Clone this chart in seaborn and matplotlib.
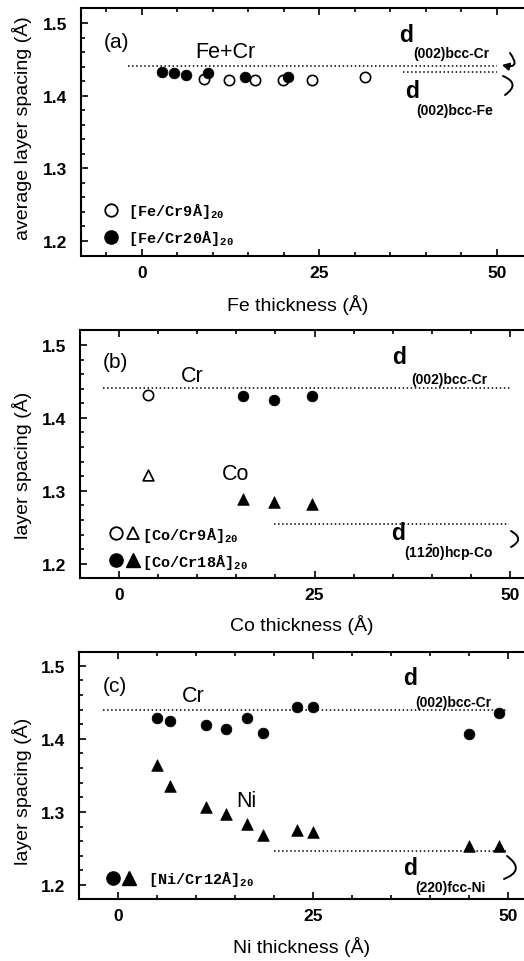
import matplotlib
matplotlib.use('Agg')
import matplotlib.pyplot as plt
import seaborn as sns
from matplotlib.lines import Line2D
from matplotlib.legend_handler import HandlerTuple
from matplotlib.patches import FancyArrowPatch
from matplotlib.ticker import MultipleLocator, FormatStrFormatter

# ---- data ----
# (a) [Fe/Cr]20 multilayers, average layer spacing
fe_x_cr9 = [8.8, 12.3, 16.0, 19.9, 24.0, 31.5]
fe_y_cr9 = [1.423, 1.421, 1.421, 1.422, 1.422, 1.425]
fe_x_cr20 = [2.8, 4.5, 6.2, 9.4, 14.6, 20.6]
fe_y_cr20 = [1.433, 1.431, 1.429, 1.431, 1.425, 1.426]

# (b) [Co/Cr]20, Cr (circles) and Co (triangles) spacing
co_x_cr9 = [3.75]
co_crsp_cr9 = [1.431]
co_cosp_cr9 = [1.322]
co_x_cr18 = [15.8, 19.8, 24.7]
co_crsp_cr18 = [1.430, 1.425, 1.430]
co_cosp_cr18 = [1.289, 1.285, 1.282]

# (c) [Ni/Cr12A]20, Cr (circles) and Ni (triangles) spacing
ni_x = [5.0, 6.6, 11.3, 13.8, 16.5, 18.6, 22.9, 25.0, 44.9, 48.8]
ni_crsp = [1.429, 1.425, 1.419, 1.413, 1.428, 1.408, 1.443, 1.443, 1.406, 1.436]
ni_nisp = [1.364, 1.336, 1.307, 1.297, 1.283, 1.269, 1.275, 1.272, 1.253, 1.254]

# bulk reference spacings (dotted lines): value, x from, x to
ref_a_y = [1.441, 1.433]
ref_a_x0 = [-2.0, 36.8]
ref_a_x1 = [50.0, 50.0]
ref_b_y = [1.441, 1.254]
ref_b_x0 = [-2.0, 19.8]
ref_b_x1 = [50.0, 49.9]
ref_c_y = [1.440, 1.246]
ref_c_x0 = [-2.0, 19.9]
ref_c_x1 = [50.0, 49.7]

sns.set_style('ticks')
plt.rcParams['font.family'] = ['Liberation Sans', 'DejaVu Sans']
plt.rcParams['mathtext.fontset'] = 'custom'
plt.rcParams['mathtext.rm'] = 'Liberation Sans:bold'
plt.rcParams['mathtext.bf'] = 'Liberation Sans:bold'
plt.rcParams['mathtext.it'] = 'Liberation Sans:bold'
for k in ['text.color', 'axes.labelcolor', 'xtick.color', 'ytick.color', 'axes.edgecolor']:
    plt.rcParams[k] = 'black'

W, H = 524, 962
fig = plt.figure(figsize=(W / 100, H / 100), dpi=100)


def add_ax(left, right, top, bottom):
    return fig.add_axes([left / W, 1 - bottom / H, (right - left) / W, (bottom - top) / H])


def ptxt(px, py, s, **kw):
    kw.setdefault('va', 'center')
    kw.setdefault('ha', 'left')
    fig.text(px / W, 1 - py / H, s, **kw)


def curve(p0, p1, rad, head=False):
    a = FancyArrowPatch((p0[0] / W, 1 - p0[1] / H), (p1[0] / W, 1 - p1[1] / H),
                        transform=fig.transFigure, connectionstyle=f'arc3,rad={rad}',
                        arrowstyle='-|>,head_length=4,head_width=2.2' if head else '-',
                        mutation_scale=1, color='black', lw=1.4, shrinkA=0, shrinkB=0)
    fig.add_artist(a)


def style_ax(ax, xlim, ylim):
    ax.set_xlim(*xlim)
    ax.set_ylim(*ylim)
    ax.xaxis.set_major_locator(MultipleLocator(25))
    ax.xaxis.set_minor_locator(MultipleLocator(5))
    ax.yaxis.set_major_locator(MultipleLocator(0.1))
    ax.yaxis.set_minor_locator(MultipleLocator(0.02))
    ax.yaxis.set_major_formatter(FormatStrFormatter('%.1f'))
    ax.spines['right'].set_visible(False)
    for s in ['left', 'bottom', 'top']:
        ax.spines[s].set_linewidth(1.5)
    ax.tick_params(which='both', direction='in', top=True, width=1.2)
    ax.tick_params(which='major', length=5)
    ax.tick_params(which='minor', length=3)
    ax.tick_params(axis='x', which='major', pad=6.5)
    ax.tick_params(axis='y', which='major', pad=10)
    for lab in ax.get_xticklabels() + ax.get_yticklabels():
        lab.set_fontweight('bold')
        lab.set_fontsize(12.5)


def open_pts(ax, x, y, m, s):
    sns.scatterplot(x=x, y=y, marker=m, s=s, color='white', edgecolor='black',
                    linewidth=1.2, ax=ax, zorder=3, legend=False)


def full_pts(ax, x, y, m, s):
    sns.scatterplot(x=x, y=y, marker=m, s=s, color='black', edgecolor='black',
                    linewidth=0.5, ax=ax, zorder=3, legend=False)


mono = {'family': ['Liberation Mono', 'DejaVu Sans Mono'], 'weight': 'bold', 'size': 11}
oc = dict(marker='o', ls='none', mfc='white', mec='black', mew=1.3, ms=9)
fc = dict(marker='o', ls='none', mfc='black', mec='black', ms=9.5)
ot = dict(marker='^', ls='none', mfc='white', mec='black', mew=1.3, ms=9)
ft = dict(marker='^', ls='none', mfc='black', mec='black', ms=9.5)
dsize = 16.5

# ---------------- (a) ----------------
ax = add_ax(81, 524, 9, 257)
ax.hlines(ref_a_y, ref_a_x0, ref_a_x1, colors='black', linestyles=':', lw=1.1)
open_pts(ax, fe_x_cr9, fe_y_cr9, 'o', 55)
full_pts(ax, fe_x_cr20, fe_y_cr20, 'o', 60)
style_ax(ax, (-8.55, 53.85), (1.1794, 1.5206))
ax.set_xlabel('Fe thickness (Å)', fontsize=14)
ax.set_ylabel('average layer spacing (Å)', fontsize=14)
ax.xaxis.set_label_coords(0.49, -0.155)
ax.yaxis.set_label_coords((32.5 - 81) / 443, 0.52)
ax.legend([Line2D([], [], **oc), Line2D([], [], **fc)],
          ['[Fe/Cr9Å]$_{\\mathregular{20}}$', '[Fe/Cr20Å]$_{\\mathregular{20}}$'],
          loc='lower left', bbox_to_anchor=(0.05, 0.035), borderaxespad=0, borderpad=0,
          frameon=False, handlelength=1.0, handletextpad=0.6, labelspacing=0.45, prop=mono)

ptxt(104, 43, '(a)', fontsize=15)
ptxt(195, 52, 'Fe+Cr', fontsize=15.5)
ptxt(399, 35, 'd', fontsize=dsize, fontweight='bold')
ptxt(413, 54, '(002)bcc-Cr', fontsize=10, fontweight='bold')
ptxt(405, 91, 'd', fontsize=dsize, fontweight='bold')
ptxt(416, 111, '(002)bcc-Fe', fontsize=10, fontweight='bold')
curve((510, 54), (502, 66), -1.3, head=True)
curve((503, 77), (505, 96), -0.9)

# ---------------- (b) ----------------
ax = add_ax(80, 524, 331, 579)
ax.hlines(ref_b_y, ref_b_x0, ref_b_x1, colors='black', linestyles=':', lw=1.1)
open_pts(ax, co_x_cr9, co_crsp_cr9, 'o', 55)
open_pts(ax, co_x_cr9, co_cosp_cr9, '^', 60)
full_pts(ax, co_x_cr18, co_crsp_cr18, 'o', 60)
full_pts(ax, co_x_cr18, co_cosp_cr18, '^', 70)
style_ax(ax, (-5.0, 51.8), (1.1805, 1.5205))
ax.set_xlabel('Co thickness (Å)', fontsize=14)
ax.set_ylabel('layer spacing (Å)', fontsize=14)
ax.xaxis.set_label_coords(0.5, -0.145)
ax.yaxis.set_label_coords((32.5 - 80) / 444, 0.46)
ax.legend([(Line2D([], [], **oc), Line2D([], [], **ot)),
           (Line2D([], [], **fc), Line2D([], [], **ft))],
          ['[Co/Cr9Å]$_{\\mathregular{20}}$', '[Co/Cr18Å]$_{\\mathregular{20}}$'],
          handler_map={tuple: HandlerTuple(ndivide=None, pad=0.2)},
          loc='lower left', bbox_to_anchor=(0.065, 0.03), borderaxespad=0, borderpad=0,
          frameon=False, handlelength=2.0, handletextpad=0.2, labelspacing=0.45, prop=mono)

ptxt(103, 363, '(b)', fontsize=15)
ptxt(181, 377, 'Cr', fontsize=15.5)
ptxt(222, 475, 'Co', fontsize=15.5)
ptxt(392, 358, 'd', fontsize=dsize, fontweight='bold')
ptxt(411, 380, '(002)bcc-Cr', fontsize=10, fontweight='bold')
ptxt(391, 533, 'd', fontsize=dsize, fontweight='bold')
ptxt(404, 553, '(11$\\bar{\\mathrm{2}}$0)hcp-Co', fontsize=10, fontweight='bold')
curve((511, 532), (511, 548), -0.9)

# ---------------- (c) ----------------
ax = add_ax(79, 524, 653, 900)
ax.hlines(ref_c_y, ref_c_x0, ref_c_x1, colors='black', linestyles=':', lw=1.1)
full_pts(ax, ni_x, ni_crsp, 'o', 60)
full_pts(ax, ni_x, ni_nisp, '^', 70)
style_ax(ax, (-5.04, 52.0), (1.1808, 1.5188))
ax.set_xlabel('Ni thickness (Å)', fontsize=14)
ax.set_ylabel('layer spacing (Å)', fontsize=14)
ax.xaxis.set_label_coords(0.5, -0.15)
ax.yaxis.set_label_coords((32.5 - 79) / 445, 0.44)
ax.legend([(Line2D([], [], **fc), Line2D([], [], **ft))],
          [' [Ni/Cr12Å]$_{\\mathregular{20}}$'],
          handler_map={tuple: HandlerTuple(ndivide=None, pad=0.2)},
          loc='lower left', bbox_to_anchor=(0.06, 0.045), borderaxespad=0, borderpad=0,
          frameon=False, handlelength=2.0, handletextpad=0.2, prop=mono)

ptxt(103, 687, '(c)', fontsize=15)
ptxt(182, 697, 'Cr', fontsize=15.5)
ptxt(236, 802, 'Ni', fontsize=15.5)
ptxt(403, 679, 'd', fontsize=dsize, fontweight='bold')
ptxt(415, 703, '(002)bcc-Cr', fontsize=10, fontweight='bold')
ptxt(403, 869, 'd', fontsize=dsize, fontweight='bold')
ptxt(415, 888, '(220)fcc-Ni', fontsize=10, fontweight='bold')
curve((507, 857), (504, 880), -0.9)

fig.savefig('out.png', dpi=100)
